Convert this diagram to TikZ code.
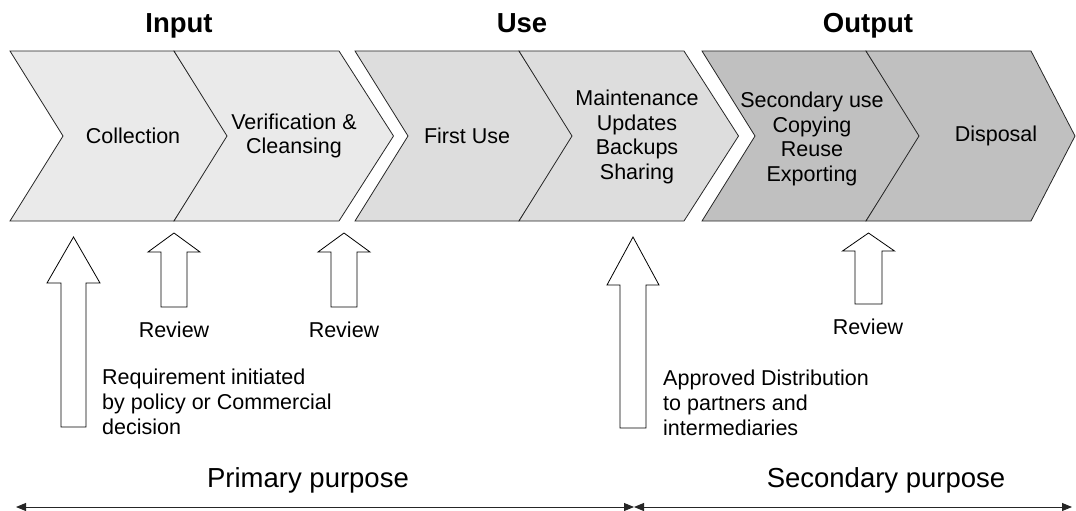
\documentclass[tikz,border=0pt]{standalone}
\usepackage{fontspec}
\setmainfont{Liberation Sans}
\usetikzlibrary{arrows.meta}
\definecolor{gA}{HTML}{EAEAEA}
\definecolor{gB}{HTML}{DDDDDD}
\definecolor{gC}{HTML}{C0C0C0}
\tikzset{
  chev/.style={draw=black!85, line width=0.8pt, line join=miter},
  lbl/.style={font=\fontsize{21.5}{24.8}\selectfont, align=center, inner sep=0pt},
  ttl/.style={font=\fontsize{27.5}{31}\selectfont\bfseries, inner sep=0pt, anchor=base},
  note/.style={font=\fontsize{21.5}{25}\selectfont, align=left, inner sep=0pt, anchor=west},
  purp/.style={font=\fontsize{27.5}{31}\selectfont, inner sep=0pt, anchor=base},
  blockarrow/.style={draw=black, fill=white, line width=0.8pt, line join=miter},
  spanline/.style={draw=black!85, line width=0.9pt, {Triangle[length=10pt,width=8pt]}-{Triangle[length=10pt,width=8pt]}}
}
\newcommand\chevshape[3]{% left x, right-top x, fill
  \path[chev, fill=#3] (#1,51) -- (#2,51) -- ({#2+54.5},136) -- (#2,221) -- (#1,221) -- ({#1+53},136) -- cycle;}
\newcommand\uparrowshape[6]{% cx, headhalf, shafthalf, apex y, base y, bottom y
  \path[blockarrow] (#1,#4) -- ({#1+#2},#5) -- ({#1+#3},#5) -- ({#1+#3},#6) -- ({#1-#3},#6) -- ({#1-#3},#5) -- ({#1-#2},#5) -- cycle;}
\begin{document}
\begin{tikzpicture}[x=1pt,y=-1pt]
\useasboundingbox (0,0) rectangle (1076,511);
% chevrons
\chevshape{10}{174}{gA}
\chevshape{174}{339}{gA}
\chevshape{355}{519}{gB}
\chevshape{519}{684}{gB}
\chevshape{702}{866}{gC}
\path[chev, fill=gC] (866,51) -- (1031,51) -- (1075,136) -- (1031,221) -- (866,221) -- (919,136) -- cycle;
% titles
\node[ttl] (tin) at (179,33) {Input};
\node[ttl] (tuse) at (522,33) {Use};
\node[ttl] (tout) at (868,33) {Output};
% chevron labels
\node[lbl] (collection) at (133,136) {Collection};
\node[lbl] (verif) at (294,136) {Verification \&\\Cleansing};
\node[lbl] (firstuse) at (467,136) {First Use};
\node[lbl] (maint) at (637,137) {Maintenance\\Updates\\Backups\\Sharing};
\node[lbl] (secuse) at (812,139) {Secondary use\\Copying\\Reuse\\Exporting};
\node[lbl] (disposal) at (996,136) {Disposal};
% block arrows
\uparrowshape{73.5}{26.5}{12.5}{237}{283}{427}
\uparrowshape{174}{26}{13}{233}{252}{307}
\uparrowshape{344}{26}{13}{233}{252}{307}
\uparrowshape{633}{26}{13}{237}{285}{428}
\uparrowshape{868.5}{26}{13.5}{233}{251}{304}
% arrow labels
\node[lbl] (rev1) at (174,330) {Review};
\node[lbl] (rev2) at (344,330) {Review};
\node[lbl] (rev3) at (868,327) {Review};
\node[note] (req) at (102,402) {Requirement initiated\\by policy or Commercial\\decision};
\node[note] (appr) at (663,403) {Approved Distribution\\to partners and\\intermediaries};
% purposes
\node[purp] (prim) at (308,487) {Primary purpose};
\node[purp] (secp) at (886,487) {Secondary purpose};
\coordinate (sl) at (16,507);
\coordinate (sm) at (634,507);
\coordinate (sr) at (1072,507);
\draw[spanline] (sl) -- (sm);
\draw[spanline] (sm) -- (sr);
\end{tikzpicture}
\end{document}
